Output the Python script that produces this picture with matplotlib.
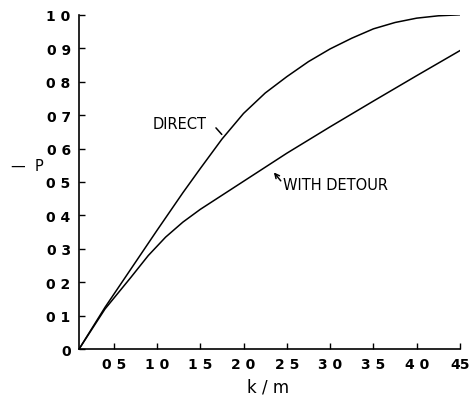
import matplotlib
matplotlib.use("Agg")
import matplotlib.pyplot as plt

# Data
direct_x = [0.1, 0.4, 0.7, 1.0, 1.3, 1.5, 1.75, 2.0, 2.25, 2.5, 2.75, 3.0, 3.25, 3.5, 3.75, 4.0, 4.25, 4.5]
direct_y = [0.0, 0.125, 0.24, 0.355, 0.468, 0.54, 0.628, 0.705, 0.766, 0.815, 0.86, 0.898, 0.93, 0.958, 0.977, 0.99, 0.997, 1.0]

detour_x = [0.1, 0.4, 0.7, 0.9, 1.1, 1.3, 1.5, 1.75, 2.0, 2.5, 3.0, 3.5, 4.0, 4.5]
detour_y = [0.0, 0.12, 0.215, 0.28, 0.335, 0.38, 0.418, 0.46, 0.502, 0.586, 0.665, 0.742, 0.818, 0.893]

x_ticks = [0.5, 1.0, 1.5, 2.0, 2.5, 3.0, 3.5, 4.0, 4.5]
x_tick_labels = ["0 5", "1 0", "1 5", "2 0", "2 5", "3 0", "3 5", "4 0", "45"]
y_ticks = [0.0, 0.1, 0.2, 0.3, 0.4, 0.5, 0.6, 0.7, 0.8, 0.9, 1.0]
y_tick_labels = ["0", "0 1", "0 2", "0 3", "0 4", "0 5", "0 6", "0 7", "0 8", "0 9", "1 0"]

plt.rcParams['font.family'] = ['DejaVu Sans']

fig = plt.figure(figsize=(4.74, 4.02), dpi=100)
ax = fig.add_axes([0.1667, 0.129, 0.8038, 0.8317])

ax.plot(direct_x, direct_y, color='black', lw=1.1)
ax.plot(detour_x, detour_y, color='black', lw=1.1)

ax.set_xlim(0.1, 4.5)
ax.set_ylim(0.0, 1.0)

for s in ['top', 'right']:
    ax.spines[s].set_visible(False)
for s in ['left', 'bottom']:
    ax.spines[s].set_linewidth(1.2)

ax.set_xticks(x_ticks)
ax.set_xticklabels(x_tick_labels, fontsize=10, fontweight='bold')
ax.set_yticks(y_ticks)
ax.set_yticklabels(y_tick_labels, fontsize=10, fontweight='bold')
ax.tick_params(direction='in', length=4, width=1, pad=6)

# annotations
ax.text(0.95, 0.675, "DIRECT", fontsize=10.5, va='center', ha='left')
ax.annotate("", xy=(1.77, 0.636), xytext=(1.66, 0.668),
            arrowprops=dict(arrowstyle='-', color='black', lw=1.1))
ax.text(2.46, 0.491, "WITH DETOUR", fontsize=10.5, va='center', ha='left')
ax.annotate("", xy=(2.33, 0.535), xytext=(2.45, 0.497),
            arrowprops=dict(arrowstyle='->', color='black', lw=1.1, mutation_scale=8))

fig.text(0.057, 0.585, "—  P", fontsize=10.5, ha='center', va='center')
fig.text(0.566, 0.035, "k / m", fontsize=12, ha='center', va='center')

fig.savefig("out.png", dpi=100)
